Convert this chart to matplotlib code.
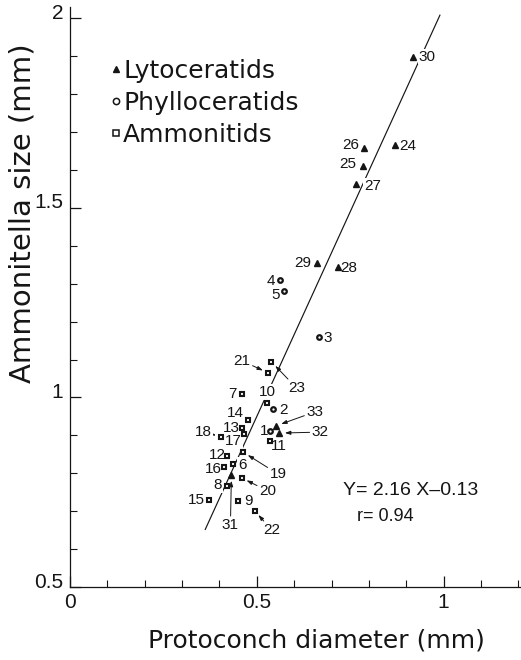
import numpy as np
import matplotlib
matplotlib.use('Agg')
import matplotlib.pyplot as plt
from matplotlib.lines import Line2D
from matplotlib.transforms import ScaledTranslation

# specimen number, protoconch diameter (mm), ammonitella size (mm)
lyto_ids = [24, 25, 26, 27, 28, 29, 30, 31, 32, 33]
lyto_x = [0.871, 0.783, 0.786, 0.766, 0.716, 0.662, 0.918, 0.432, 0.560, 0.551]
lyto_y = [1.666, 1.611, 1.657, 1.564, 1.345, 1.355, 1.899, 0.795, 0.906, 0.925]

phyl_ids = [1, 2, 3, 4, 5]
phyl_x = [0.534, 0.544, 0.666, 0.561, 0.573]
phyl_y = [0.912, 0.970, 1.159, 1.310, 1.281]

ammo_ids = [6, 7, 8, 9, 10, 11, 12, 13, 14, 15, 16, 17, 18, 19, 20, 21, 22, 23]
ammo_x = [0.435, 0.460, 0.419, 0.450, 0.527, 0.534, 0.420, 0.460, 0.477,
          0.372, 0.411, 0.465, 0.405, 0.463, 0.459, 0.530, 0.494, 0.539]
ammo_y = [0.824, 1.010, 0.766, 0.728, 0.986, 0.885, 0.846, 0.919, 0.941,
          0.729, 0.817, 0.903, 0.896, 0.856, 0.788, 1.065, 0.701, 1.094]

slope = 2.16
intercept = -0.13
r_value = 0.94
fit_range = [0.362, 0.99]

# where each number sits relative to its point (pixels, up is positive)
label_offsets = {
    30: (14, 0), 24: (12, -1), 26: (-13, 3), 25: (-15, 2), 27: (16, -2),
    29: (-15, 0), 28: (11, -1), 4: (-9, -1), 5: (-9, -4), 3: (9, -1),
    7: (-9, 0), 10: (0, 11), 2: (10, -1), 14: (-13, 7), 13: (-10.5, 0),
    1: (-5.5, 0), 17: (-10, -7), 11: (9, -5), 12: (-10, 1), 6: (9.5, -1),
    16: (-10.5, -2), 8: (-9, 1), 15: (-12.5, 0), 9: (10, 0),
}
arrow_offsets = {
    21: (-26, 12), 23: (25, -26), 33: (39, 14), 32: (41, 1), 18: (-18, 5),
    19: (35, -22), 20: (26, -13), 22: (17, -19), 31: (-1, -50),
}

ink = '#151515'
plt.rcParams['font.family'] = 'DejaVu Sans'

fig = plt.figure(figsize=(5.21, 6.60), dpi=100)
ax = fig.add_axes([70 / 521, 73 / 660, 451 / 521, 580 / 660])

fx = np.array(fit_range)
ax.plot(fx, slope * fx + intercept, color=ink, lw=0.85, zorder=1)

ax.plot(lyto_x, lyto_y, ls='none', marker='^', ms=5, color=ink, zorder=3)
ax.plot(phyl_x, phyl_y, ls='none', marker='o', ms=3.3, mfc='white', mec=ink,
        mew=1.6, zorder=3)
ax.plot(ammo_x, ammo_y, ls='none', marker='s', ms=2.9, mfc='white', mec=ink,
        mew=1.5, zorder=3)

num_font = dict(family='Liberation Sans', size=11, color=ink)
box = dict(fc='white', ec='none', pad=0.6)
for ids, xs, ys in [(lyto_ids, lyto_x, lyto_y), (phyl_ids, phyl_x, phyl_y),
                    (ammo_ids, ammo_x, ammo_y)]:
    for n, x, y in zip(ids, xs, ys):
        if n in arrow_offsets:
            ax.annotate(str(n), (x, y), xytext=arrow_offsets[n],
                        textcoords='offset pixels', ha='center', va='center',
                        bbox=box, zorder=2, **num_font,
                        arrowprops=dict(arrowstyle='-|>,head_length=0.3,head_width=0.1',
                                        color=ink, lw=0.7, shrinkA=1, shrinkB=4))
        else:
            ax.annotate(str(n), (x, y), xytext=label_offsets[n],
                        textcoords='offset pixels', ha='center', va='center',
                        bbox=box, zorder=2, **num_font)

ax.text(0.605, 0.167, 'Y= %.2f X\u2013%.2f' % (slope, -intercept),
        transform=ax.transAxes, family='Liberation Sans', size=14, color=ink,
        ha='left', va='center')
ax.text(0.636, 0.121, 'r= %.2f' % r_value, transform=ax.transAxes,
        family='Liberation Sans', size=13, color=ink, ha='left', va='center')

ax.set_xlim(0, 1.207)
ax.set_ylim(0.5, 2.03)
ax.set_xticks([0, 0.5, 1])
ax.set_xticklabels(['0', '0.5', '1'])
ax.set_xticks(np.arange(0.1, 1.25, 0.1), minor=True)
ax.set_yticks([0.5, 1, 1.5, 2])
ax.set_yticklabels(['0.5', '1', '1.5', '2'])
ax.set_yticks(np.arange(0.6, 2.0, 0.1), minor=True)
ax.tick_params(which='major', direction='in', length=8, width=0.9, color=ink,
               labelsize=15, labelcolor=ink)
ax.tick_params(which='minor', direction='in', length=5, width=0.8, color=ink)
ax.tick_params(axis='x', pad=4)
ax.tick_params(axis='y', pad=5)
for lab in ax.get_xticklabels() + ax.get_yticklabels():
    lab.set_family('Liberation Sans')
shift = ScaledTranslation(0, 5 / 72, fig.dpi_scale_trans)
for lab in ax.get_yticklabels():
    lab.set_transform(lab.get_transform() + shift)

for side in ['top', 'right']:
    ax.spines[side].set_visible(False)
for side in ['left', 'bottom']:
    ax.spines[side].set_color(ink)
    ax.spines[side].set_linewidth(0.9)

ax.set_xlabel('Protoconch diameter (mm)', fontsize=18, color=ink)
ax.set_ylabel('Ammonitella size (mm)', fontsize=21, color=ink)
ax.xaxis.set_label_coords(0.547, -0.072)
ax.yaxis.set_label_coords(-0.075, 0.645)

handles = [
    Line2D([], [], ls='none', marker='^', ms=4.5, color=ink),
    Line2D([], [], ls='none', marker='o', ms=4.5, mfc='white', mec=ink, mew=1.1),
    Line2D([], [], ls='none', marker='s', ms=4.5, mfc='white', mec=ink, mew=1.1),
]
ax.legend(handles, ['Lytoceratids', 'Phylloceratids', 'Ammonitids'],
          loc='upper left', bbox_to_anchor=(0.09, 0.91), frameon=False,
          fontsize=18, handlelength=0.4, handletextpad=0.1, labelspacing=0.32,
          borderpad=0, borderaxespad=0, labelcolor=ink)

fig.savefig('out.png', dpi=100)
